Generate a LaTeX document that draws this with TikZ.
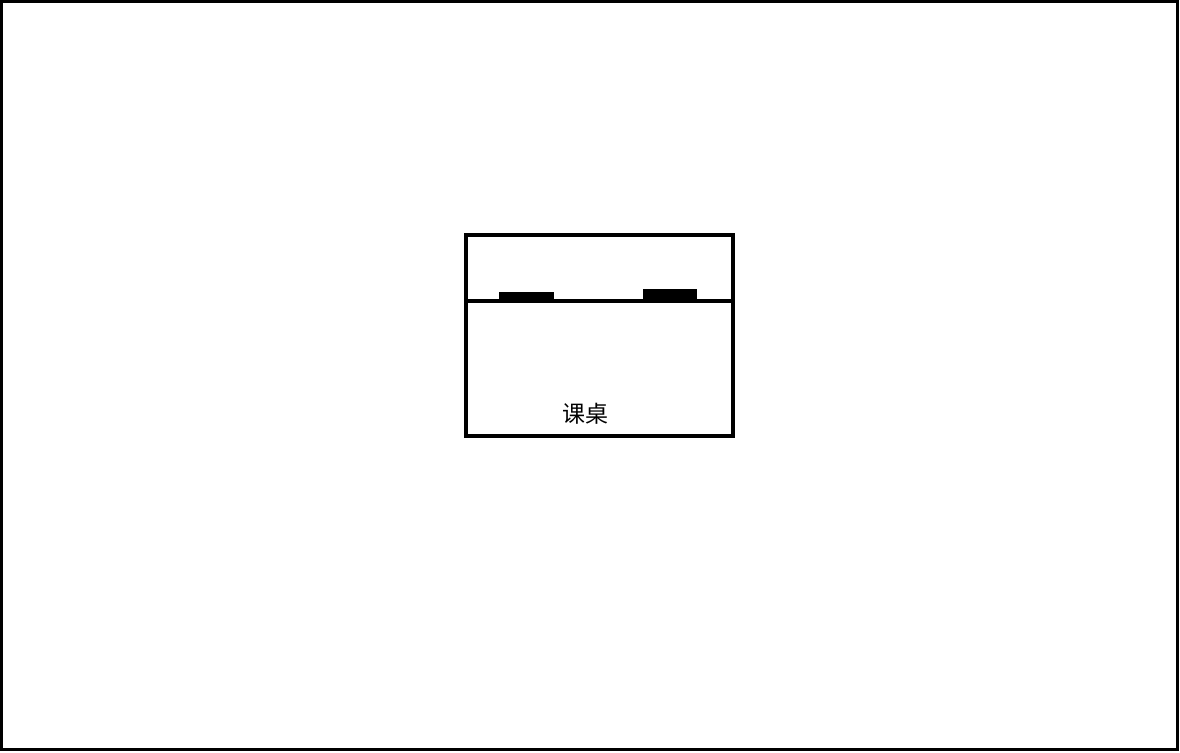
\documentclass[tikz,border=0pt]{standalone}
\usepackage{fontspec}
\newfontfamily\cjk{Noto Sans CJK SC}
\begin{document}
\begin{tikzpicture}[x=1pt,y=-1pt,
  frame/.style={draw=black,line width=2.5pt},
  desk/.style={draw=black,line width=4pt},
  item/.style={fill=black,draw=none},
  lbl/.style={font=\cjk\fontsize{23}{25}\selectfont,inner sep=0pt}]
\useasboundingbox (0,0) rectangle (1180,752);
\draw[frame] (1.5,1.5) rectangle (1177.5,749.5);
\draw[desk] (466,235) rectangle (733,436);
\draw[desk] (466,301) -- (733,301);
\fill[item] (499,292) rectangle (554,300);
\fill[item] (643,289) rectangle (697,300);
\node[lbl] (label) at (585,414) {课桌};
\end{tikzpicture}
\end{document}
